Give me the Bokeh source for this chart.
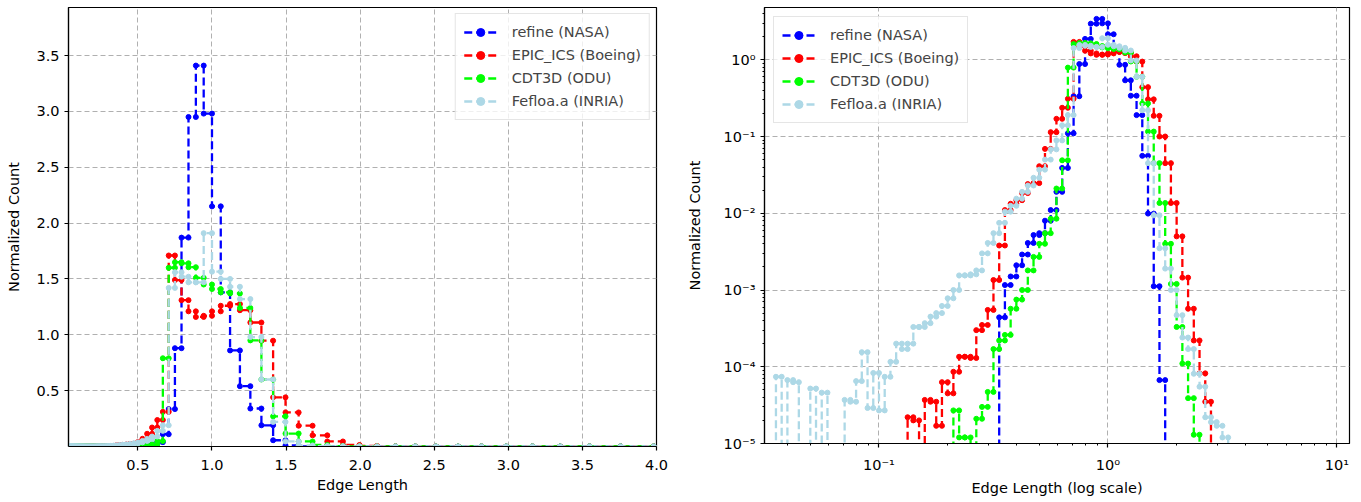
import numpy as np
from bokeh.plotting import figure
from bokeh.layouts import row
from bokeh.models import Range1d, FixedTicker, Legend, LegendItem, CustomJSTickFormatter, PrintfTickFormatter
from bokeh.embed import file_html
from bokeh.resources import INLINE

# ---------------- data ----------------
# histogram bins: 40 log-spaced bins per decade, first edge at 10^(-60/40)
BINS_PER_DECADE = 40
FIRST_EDGE_EXP = -60
N_BINS = 85

series_names = ["refine (NASA)", "EPIC_ICS (Boeing)", "CDT3D (ODU)", "Fefloa.a (INRIA)"]
series_colors = ["#0000ff", "#ff0000", "#00ff00", "#add8e6"]

# normalized counts, listed from the first non-empty bin (bin index = exponent step)
refine_start = -19
refine_vals = [4.4e-4, 1.16e-3, 1.5e-3, 2.1e-3, 2.9e-3, 4.1e-3, 5.2e-3, 5.5e-3, 8.0e-3, 0.011,
               0.019, 0.039, 0.11, 0.335, 0.88, 1.87, 2.95, 3.41, 2.98, 2.15,
               1.38, 0.86, 0.54, 0.34, 0.19, 0.056, 0.0099, 0.00112, 6.7e-5]

epic_start = -35
epic_vals = [2.2e-5, 2.0e-5, 0.0, 3.7e-5, 3.5e-5, 1.7e-5, 6.3e-5, 4.5e-5, 8.6e-5, 1.35e-4,
             1.35e-4, 1.3e-4, 3.0e-4, 3.5e-4, 5.5e-4, 1.35e-3, 3.8e-3, 0.011, 0.0133, 0.0148,
             0.0183, 0.024, 0.0247, 0.041, 0.069, 0.114, 0.17, 0.237, 0.31, 1.71,
             1.49, 1.31, 1.21, 1.16, 1.17, 1.21, 1.26, 1.275, 1.22, 1.11,
             0.947, 0.44, 0.305, 0.186, 0.10, 0.045, 0.0136, 0.005, 0.00145, 5.7e-4,
             2.2e-4, 8.2e-5, 3.5e-5]

cdt3d_start = -27
cdt3d_vals = [2.7e-5, 1.2e-5, 1.2e-5, 0.0, 2.1e-5, 3.0e-5, 4.7e-5, 1.7e-4, 2.2e-4, 2.6e-4,
              5.7e-4, 7.5e-4, 1.0e-3, 1.8e-3, 2.7e-3, 4.0e-3, 5.5e-3, 8.5e-3, 0.021, 0.049,
              0.79, 1.60, 1.65, 1.64, 1.605, 1.51, 1.45, 1.41, 1.38, 1.37,
              1.24, 0.95, 0.60, 0.27, 0.116, 0.045, 0.0136, 0.004, 1.2e-3, 3.3e-4,
              1.1e-4, 3.9e-5, 1.3e-5]

fefloa_start = -58
fefloa_vals = [7.4e-5, 0.0, 6.7e-5, 6.3e-5, 0.0, 0.0, 5.2e-5, 0.0, 4.6e-5, 0.0,
               0.0, 0.0, 3.7e-5, 3.5e-5, 6.5e-5, 1.55e-4, 2.9e-5, 8.3e-5, 2.7e-5, 7.4e-5,
               1.16e-4, 2.0e-4, 1.7e-4, 2.0e-4, 3.3e-4, 3.3e-4, 3.7e-4, 4.5e-4, 5.0e-4, 6.2e-4,
               7.8e-4, 1.0e-3, 1.55e-3, 1.55e-3, 1.6e-3, 1.8e-3, 3.0e-3, 4.1e-3, 5.5e-3, 7.5e-3,
               0.0105, 0.0125, 0.0155, 0.019, 0.023, 0.029, 0.037, 0.05, 0.068, 0.089,
               0.14, 0.19, 1.42, 1.56, 1.52, 1.47, 1.47, 1.91, 1.565, 1.50,
               1.43, 1.32, 0.98, 0.60, 0.22, 0.045, 0.0094, 3.5e-3, 1.9e-3, 1.0e-3,
               4.7e-4, 2.4e-4, 1.7e-4, 8.1e-5, 5.5e-5, 2.2e-5, 1.9e-5, 1.7e-5, 1.2e-5]

series_starts = [refine_start, epic_start, cdt3d_start, fefloa_start]
series_vals = [refine_vals, epic_vals, cdt3d_vals, fefloa_vals]

left_xticks = [0.5, 1.0, 1.5, 2.0, 2.5, 3.0, 3.5, 4.0]
left_yticks = [0.5, 1.0, 1.5, 2.0, 2.5, 3.0, 3.5]
right_xticks = [0.1, 1.0, 10.0]
right_yticks = [1e-5, 1e-4, 1e-3, 1e-2, 1e-1, 1.0]

# ---------------- helpers ----------------
edges = 10.0 ** (np.arange(FIRST_EDGE_EXP, FIRST_EDGE_EXP + N_BINS + 1) / BINS_PER_DECADE)


def full_counts(start, vals):
    arr = np.zeros(N_BINS)
    i0 = start - FIRST_EDGE_EXP
    arr[i0:i0 + len(vals)] = vals
    return arr


def step_points(arr):
    xs = np.empty(2 * N_BINS)
    ys = np.empty(2 * N_BINS)
    xs[0::2] = edges[:-1]
    xs[1::2] = edges[1:]
    ys[0::2] = arr
    ys[1::2] = arr
    return xs, ys


FONT = "DejaVu Sans"
FS = "14.5px"
GRID = "#b0b0b0"


def style(p, label_x, label_y, ylab_standoff):
    p.outline_line_color = "black"
    p.outline_line_width = 1.2
    for ax in (p.xaxis[0], p.yaxis[0]):
        ax.axis_line_color = "black"
        ax.axis_line_width = 1.2
        ax.major_tick_line_color = "black"
        ax.major_tick_line_width = 1.2
        ax.major_tick_in = 0
        ax.major_tick_out = 4
        ax.minor_tick_in = 0
        ax.minor_tick_out = 2
        ax.minor_tick_line_color = "black"
        ax.major_label_text_font = FONT
        ax.major_label_text_font_size = FS
        ax.major_label_text_color = "black"
        ax.axis_label_text_font = FONT
        ax.axis_label_text_font_size = FS
        ax.axis_label_text_font_style = "normal"
        ax.axis_label_text_color = "black"
        ax.major_label_standoff = 5
    p.xaxis[0].major_label_standoff = 9
    p.xaxis[0].axis_label = label_x
    p.yaxis[0].axis_label = label_y
    p.xaxis[0].axis_label_standoff = 4
    p.yaxis[0].axis_label_standoff = ylab_standoff
    for g in (p.xgrid[0], p.ygrid[0]):
        g.grid_line_color = GRID
        g.grid_line_dash = "5 3"
        g.grid_line_width = 1


def add_series(p, log):
    items = []
    for name, col, st, vals in zip(series_names, series_colors, series_starts, series_vals):
        xs, ys = step_points(full_counts(st, vals))
        if log:
            ys = np.where(ys > 0, ys, 1e-12)
        lr = p.line(xs, ys, line_color=col, line_width=2.3, line_dash="8 4")
        sr = p.scatter(xs, ys, size=5, fill_color=col, line_color=col)
        items.append(LegendItem(label=name, renderers=[lr, sr]))
    return items


def make_legend(items, loc, margin):
    lg = Legend(items=items, location=loc, margin=margin)
    lg.label_text_font = FONT
    lg.label_text_font_size = FS
    lg.glyph_width = 33
    lg.glyph_height = 20
    lg.label_height = 20
    lg.label_standoff = 15
    lg.padding = 8
    lg.spacing = 3
    lg.border_line_color = "#cccccc"
    lg.border_line_width = 1
    lg.background_fill_color = "white"
    lg.background_fill_alpha = 0.8
    return lg


# ---------------- left (linear) ----------------
p1 = figure(frame_width=588, frame_height=439,
            x_range=Range1d(edges[0], 4.0), y_range=Range1d(0.0, 3.93),
            output_backend="svg", toolbar_location=None,
            min_border_left=68, min_border_right=12, min_border_top=7, min_border_bottom=48)
style(p1, "Edge Length", "Normalized Count", 11)
t1x = FixedTicker(ticks=left_xticks)
t1y = FixedTicker(ticks=left_yticks)
p1.xaxis[0].ticker = t1x
p1.yaxis[0].ticker = t1y
p1.xgrid[0].ticker = t1x
p1.ygrid[0].ticker = t1y
p1.xaxis[0].formatter = PrintfTickFormatter(format="%.1f")
p1.yaxis[0].formatter = PrintfTickFormatter(format="%.1f")
p1.xaxis[0].minor_tick_line_color = None
p1.yaxis[0].minor_tick_line_color = None
items1 = add_series(p1, False)
p1.add_layout(make_legend(items1, "top_right", 6))

# ---------------- right (log) ----------------
p2 = figure(frame_width=585, frame_height=436, x_axis_type="log", y_axis_type="log",
            x_range=Range1d(edges[0], 10 ** 1.055), y_range=Range1d(1e-5, 10 ** 0.681),
            output_backend="svg", toolbar_location=None,
            min_border_left=96, min_border_right=8, min_border_top=7, min_border_bottom=51)
style(p2, "Edge Length (log scale)", "Normalized Count", 18)
minor_x = [m * 10.0 ** e for e in range(-2, 2) for m in range(2, 10)]
minor_y = [m * 10.0 ** e for e in range(-6, 1) for m in range(2, 10)]
t2x = FixedTicker(ticks=right_xticks, minor_ticks=minor_x)
t2y = FixedTicker(ticks=right_yticks, minor_ticks=minor_y)
p2.xaxis[0].ticker = t2x
p2.yaxis[0].ticker = t2y
p2.xgrid[0].ticker = FixedTicker(ticks=right_xticks)
p2.ygrid[0].ticker = FixedTicker(ticks=right_yticks)
sup_code = """
const sup = {"-": "⁻", "0": "⁰", "1": "¹", "2": "²", "3": "³", "4": "⁴",
             "5": "⁵", "6": "⁶", "7": "⁷", "8": "⁸", "9": "⁹"};
const e = Math.round(Math.log10(tick));
return "10" + String(e).split("").map(c => sup[c]).join("");
"""
p2.xaxis[0].formatter = CustomJSTickFormatter(code=sup_code)
p2.yaxis[0].formatter = CustomJSTickFormatter(code=sup_code)
items2 = add_series(p2, True)
p2.add_layout(make_legend(items2, "top_left", 9))

layout = row(p1, p2)
open("out.html", "w", encoding="utf-8").write(file_html(layout, INLINE))
